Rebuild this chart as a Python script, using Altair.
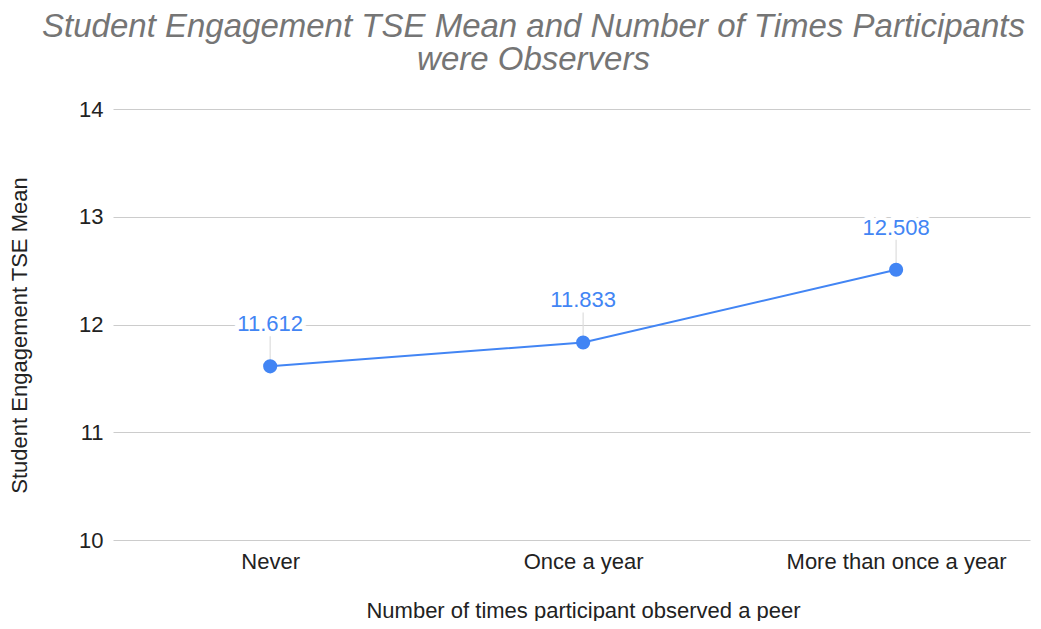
import altair as alt
import pandas as pd

categories = ["Never", "Once a year", "More than once a year"]
means = [11.612, 11.833, 12.508]
labels = ["11.612", "11.833", "12.508"]
y_ticks = [10, 11, 12, 13, 14]

df = pd.DataFrame({"cat": categories, "mean": means, "label": labels})

BLUE = "#4285F4"
FONT = "Liberation Sans"
FS = 22

x_scale = alt.Scale(type="point", domain=categories, padding=0.465, align=0.54)

x_enc = alt.X(
    "cat:N",
    sort=categories,
    scale=x_scale,
    axis=alt.Axis(
        title="Number of times participant observed a peer",
        labelAngle=0,
        labelFontSize=FS,
        labelColor="#222222",
        labelFont=FONT,
        labelPadding=11,
        labelLimit=500,
        ticks=False,
        domain=False,
        grid=False,
        titleFont=FONT,
        titleFontSize=FS,
        titleFontWeight="normal",
        titleColor="#222222",
        titleX=470,
        titleY=70,
        titleBaseline="middle",
    ),
)
y_enc = alt.Y(
    "mean:Q",
    scale=alt.Scale(domain=[10, 14], nice=False, zero=False),
    axis=alt.Axis(
        title="Student Engagement TSE Mean",
        values=y_ticks,
        format="d",
        labelFontSize=FS,
        labelColor="#222222",
        labelFont=FONT,
        labelPadding=10,
        ticks=False,
        domain=False,
        gridColor="#cccccc",
        gridWidth=1,
        titleFont=FONT,
        titleFontSize=FS,
        titleFontWeight="normal",
        titleColor="#222222",
        titleX=-82,
        titleY=226,
        titleAnchor="middle",
    ),
)

base = alt.Chart(df)

leader = base.mark_rule(color="#dddddd", strokeWidth=1.2, y2Offset=-30).encode(
    x=x_enc, y=y_enc, y2=alt.Y2("mean")
)
line = base.mark_line(color=BLUE, strokeWidth=2).encode(x=x_enc, y=y_enc)
pts = base.mark_point(filled=True, size=200, color=BLUE, opacity=1).encode(x=x_enc, y=y_enc)
halo = base.mark_text(
    dy=-42, fontSize=FS, font=FONT, color="white", stroke="white", strokeWidth=8
).encode(x=x_enc, y=y_enc, text="label:N")
txt = base.mark_text(dy=-42, fontSize=FS, font=FONT, color=BLUE).encode(
    x=x_enc, y=y_enc, text="label:N"
)

chart = (
    alt.layer(line, leader, halo, txt, pts)
    .properties(
        width=917,
        height=431,
        background="white",
        autosize=alt.AutoSizeParams(type="none"),
        padding={"left": 105, "top": 101, "right": 3, "bottom": 81},
        title=alt.TitleParams(
            text=["Student Engagement TSE Mean and Number of Times Participants", "were Observers"],
            font=FONT,
            fontSize=33,
            fontStyle="italic",
            fontWeight="normal",
            color="#757575",
            anchor="middle",
            dx=-38,
            offset=21,
            lineHeight=33,
        ),
    )
    .configure_view(strokeWidth=0, stroke="transparent")
)

chart.save("out.html", embed_options={"renderer": "svg", "actions": False})
